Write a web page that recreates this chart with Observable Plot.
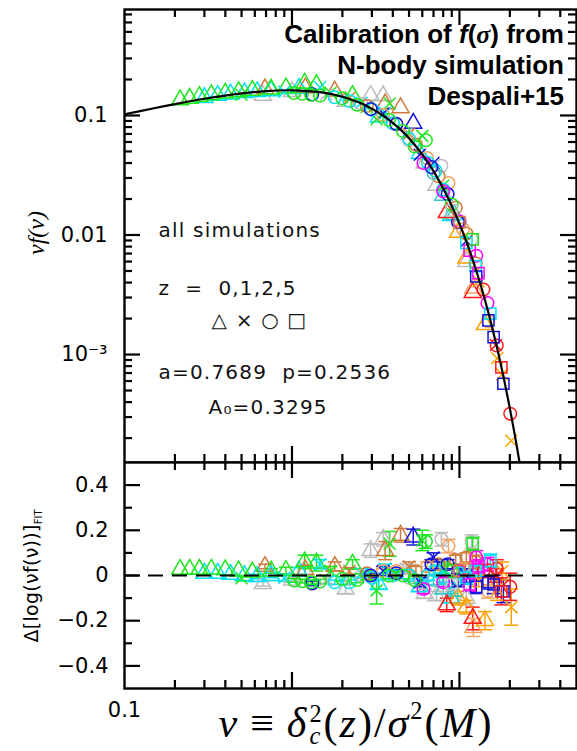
<!DOCTYPE html>
<html>
<head>
<meta charset="utf-8">
<script src="https://cdn.jsdelivr.net/npm/d3@7"></script>
<script src="https://cdn.jsdelivr.net/npm/@observablehq/plot@0.6"></script>
<style>
  body { margin: 0; background: #fff; }
  #wrap { position: relative; width: 577px; height: 751px; overflow: hidden; background: #fff; }
  #top, #bot { position: absolute; left: 0; width: 577px; }
  #top { top: 0; }
  #bot { top: 462px; }
  svg { display: block; }
  #top g[aria-label="text"] text { letter-spacing: 1.2px; }
  .title { position: absolute; right: 13px; top: 19px; text-align: right; font-family: "Liberation Sans", Arial, sans-serif;
           font-weight: bold; font-size: 26px; line-height: 31px; color: #000; white-space: nowrap; }
  .title .sg { font-family: "Liberation Serif", serif; font-style: italic; font-weight: bold; }
  .ytitle { position: absolute; width: max-content; transform: translate(-50%, -50%) rotate(-90deg); white-space: nowrap; color: #000; }
  #yt1 { left: 36px; top: 233px; font-family: "Liberation Serif", serif; font-style: italic; font-size: 24px; }
  #yt2 { left: 32px; top: 576px; font-family: "DejaVu Sans", sans-serif; font-size: 19px; letter-spacing: 0.3px; }
  #yt2 sub { font-size: 10px; letter-spacing: 0; }
  #xt { position: absolute; left: 356px; top: 702px; width: max-content; transform: translateX(-50%); font-family: "Liberation Serif", serif;
        font-size: 42px; line-height: 42px; letter-spacing: 2px; white-space: nowrap; color: #000; }
  #xt .sp { display: inline-block; width: 11px; }
  #xt .ss { display: inline-block; vertical-align: -0.3em; font-size: 0.58em; line-height: 0.92; text-align: left; margin-left: 1px; }
  #xt .ss span { display: block; }
  #xt sup { font-size: 0.58em; vertical-align: 0.75em; line-height: 0; }
</style>
</head>
<body>
<div id="wrap">
  <div id="top"></div>
  <div id="bot"></div>
  <div class="title">Calibration of <i>f</i>(<span class="sg">σ</span>) from<br>N-body simulation<br>Despali+15</div>
  <div class="ytitle" id="yt1">νf(ν)</div>
  <div class="ytitle" id="yt2">Δ[log(νf(ν))]<sub>FIT</sub></div>
  <div id="xt"><i>ν</i><span class="sp"></span>≡<span class="sp"></span><i>δ</i><span class="ss"><span>2</span><span><i>c</i></span></span>(<i>z</i>)/<i>σ</i><sup>2</sup>(<i>M</i>)</div>
</div>
<script>
// ---------------- data ----------------
// redshift of each marker: 0,1,2,5  ->  triangle, times, circle, square
const redshifts = [0, 1, 2, 5];
const zSymbols = ["triangle", "times", "circle", "square"];

// fitted curve
const fitNu  = [0.1, 0.15, 0.2, 0.3, 0.4, 0.5, 0.7, 1, 1.5, 2, 2.5, 3, 3.5, 4, 4.5, 5, 6, 7, 8, 9, 10, 11, 12, 13, 14, 15, 16, 17, 18, 19, 20, 21, 22, 23];
const fitNuF = [0.1023, 0.1150, 0.1245, 0.1379, 0.1468, 0.1530, 0.1599, 0.1624, 0.1558, 0.1433, 0.1288, 0.1140, 0.0998, 0.0868, 0.0750, 0.0645, 0.0472, 0.0342, 0.0245, 0.01753, 0.01245, 0.00881, 0.00621, 0.00437, 0.00307, 0.00215, 0.00150, 0.00105, 0.000731, 0.000509, 0.000354, 0.000246, 0.000171, 0.000118];

// simulations: colour of each run
const simNames  = ["gray", "sienna", "sandy", "cyan", "turquoise", "blue", "magenta", "orange", "red", "green"];
const simColors = ["#bdbdbd", "#cd7a3c", "#f4a460", "#00e1f0", "#3cc8c8", "#1414dc", "#ff00ff", "#ffa000", "#ff1a1a", "#1ee61e"];

// each point: [z index, nu, nu f(nu), residual, error]
const simGray = [
  [0,0.67,0.147,-0.036,0.01],[0,1.0,0.158,-0.02,0.01],[1,1.6,0.150,-0.02,0.015],[0,2.09,0.131,-0.06,0.02],
  [2,2.6,0.125,0.0,0.01],[0,2.95,0.147,0.11,0.03],[0,3.5,0.146,0.16,0.03],[1,4.8,0.070,0.03,0.02],
  [2,5.0,0.062,-0.01,0.015],[0,6.2,0.040,-0.08,0.02],[0,7.3,0.026,-0.09,0.02],[2,7.8,0.038,0.16,0.03],
  [3,9.0,0.016,-0.04,0.03],[2,11.8,0.0092,0.15,0.03],[0,11.0,0.0060,-0.10,0.03]
];
const simSienna = [
  [0,0.69,0.167,0.04,0.01],[0,1.2,0.170,0.025,0.02],[0,1.8,0.160,0.04,0.02],[1,2.2,0.140,0.02,0.015],
  [2,2.8,0.120,0.01,0.01],[0,3.6,0.125,0.11,0.04],[0,4.45,0.116,0.178,0.03],[1,5.0,0.070,0.04,0.02],
  [2,5.5,0.057,0.02,0.02],[2,7.5,0.031,0.05,0.02],[2,9.5,0.017,0.07,0.02],[3,10.0,0.0128,0.02,0.03],
  [2,11.0,0.0103,0.08,0.02],[2,12.5,0.0058,0.06,0.03]
];
const simSandy = [
  [2,3.5,0.101,0.02,0.01],[2,4.2,0.084,0.02,0.015],[2,6.4,0.044,0.04,0.02],[2,8.6,0.0272,0.13,0.03],
  [2,10.5,0.0112,0.03,0.02],[2,14.8,0.0019,-0.07,0.03],[0,12.1,0.0036,-0.23,0.04]
];
const simCyan = [
  [0,0.30,0.141,0.01,0],[0,0.36,0.147,0.01,0],[0,0.43,0.151,0.005,0],[0,0.52,0.155,0.0,0],
  [0,0.62,0.158,-0.005,0.01],[0,0.75,0.161,0.0,0.01],[1,0.90,0.158,-0.01,0.015],[0,1.1,0.168,0.02,0.015],
  [1,1.47,0.172,0.05,0.02],[2,1.8,0.142,-0.03,0.01],[2,2.2,0.132,-0.03,0.01],[1,2.6,0.128,0.01,0.02],
  [2,3.0,0.112,-0.01,0.01],[0,3.3,0.097,-0.04,0.02],[1,3.6,0.105,0.03,0.02],[2,4.0,0.086,0.0,0.015],
  [2,5.0,0.064,0.0,0.015],[0,5.8,0.048,-0.05,0.02],[2,6.5,0.040,0.0,0.02],[2,7.2,0.0345,0.02,0.02],
  [2,8.0,0.024,-0.01,0.02],[0,8.9,0.0145,-0.10,0.02],[2,10.0,0.0128,0.01,0.02],[3,11.0,0.0086,-0.01,0.03],
  [3,12.5,0.0055,0.02,0.02],[3,15.3,0.0022,0.065,0.03]
];
const simTurquoise = [
  [2,7.0,0.033,-0.02,0.02],[0,8.0,0.0215,-0.06,0.02],[0,9.3,0.0148,-0.07,0.02]
];
const simBlue = [
  [2,1.32,0.150,-0.035,0.01],[2,2.95,0.113,0.0,0.01],[1,3.5,0.104,0.02,0.02],[2,4.2,0.085,0.01,0.015],
  [0,5.3,0.086,0.17,0.035],[1,5.8,0.047,-0.03,0.02],[2,6.8,0.037,0.05,0.02],[1,7.0,0.040,0.08,0.02],
  [2,8.5,0.022,0.05,0.02],[2,9.8,0.0128,-0.02,0.03],[1,11.0,0.0089,0.0,0.03],
  [3,12.6,0.0045,-0.05,0.03],[3,14.9,0.00193,-0.03,0.03],[3,16.0,0.0014,-0.04,0.04],[3,18.3,0.00057,-0.07,0.05]
];
const simMagenta = [
  [2,6.1,0.040,-0.06,0.02],[2,8.0,0.0232,-0.03,0.02],[2,10.0,0.0130,0.02,0.02],[3,11.5,0.0074,-0.04,0.03],
  [2,12.6,0.0067,0.08,0.03],[3,13.0,0.0048,0.04,0.03],[2,14.7,0.0027,0.05,0.03]
];
const simOrange = [
  [0,9.8,0.0105,-0.10,0.03],[0,11.0,0.0064,-0.14,0.03],[1,13.0,0.0041,-0.02,0.03],[0,14.2,0.00178,-0.20,0.04],
  [1,16.8,0.00093,-0.06,0.05],[1,18.0,0.00068,0.02,0.04],[1,20.4,0.00019,-0.14,0.08]
];
const simRed = [
  [0,8.4,0.0154,-0.13,0.03],[0,12.0,0.0033,-0.19,0.05],[2,13.9,0.0035,0.02,0.03],[2,16.7,0.00119,0.03,0.04],
  [1,16.5,0.0012,0.0,0.03],[3,17.8,0.00078,-0.07,0.06],[2,20.1,0.00032,-0.05,0.06]
];
const simGreen = [
  [0,0.215,0.135,0.027,0],[0,0.245,0.139,0.027,0],[0,0.28,0.144,0.027,0],[0,0.33,0.149,0.028,0],
  [0,0.40,0.154,0.025,0],[0,0.48,0.158,0.02,0],[0,0.58,0.162,0.015,0],[1,0.50,0.149,-0.012,0.012],
  [0,0.75,0.166,0.02,0.01],[0,0.92,0.170,0.022,0.015],[0,1.19,0.186,0.06,0.03],[0,1.40,0.181,0.055,0.035],
  [2,1.03,0.154,-0.022,0.008],[2,1.15,0.152,-0.025,0.008],[2,1.30,0.149,-0.03,0.01],[2,1.47,0.147,-0.027,0.01],
  [1,1.7,0.155,0.02,0.02],[2,2.0,0.139,-0.015,0.01],[0,2.3,0.147,0.05,0.02],[2,2.45,0.123,-0.02,0.012],
  [1,2.8,0.118,0.0,0.02],[1,3.2,0.093,-0.066,0.06],[2,3.8,0.092,0.0,0.015],[1,3.83,0.126,0.14,0.055],
  [2,4.6,0.074,0.0,0.015],[2,5.4,0.055,-0.02,0.015],[1,6.0,0.0675,0.155,0.045],[2,6.3,0.062,0.15,0.03],
  [1,8.0,0.026,0.03,0.03],[2,9.0,0.018,0.02,0.03],[3,12.0,0.0092,0.14,0.03]
];
const simPoints = [simGray, simSienna, simSandy, simCyan, simTurquoise, simBlue, simMagenta, simOrange, simRed, simGreen];

// axis ticks
const xMajorTicks = [1, 10];
const xMinorTicks = [0.2,0.3,0.4,0.5,0.6,0.7,0.8,0.9, 2,3,4,5,6,7,8,9, 20,30,40];
const xLabelTicks = [0.1];
const yTopMajorTicks = [0.001, 0.01, 0.1];
const yTopMinorTicks = [2e-4,3e-4,4e-4,5e-4,6e-4,7e-4,8e-4,9e-4, 2e-3,3e-3,4e-3,5e-3,6e-3,7e-3,8e-3,9e-3,
                        0.02,0.03,0.04,0.05,0.06,0.07,0.08,0.09, 0.2,0.3,0.4,0.5,0.6,0.7];
const yTopTickLabels = {"0.001": "10⁻³", "0.01": "0.01", "0.1": "0.1"};
const yBotMajorTicks = [-0.4, -0.2, 0, 0.2, 0.4];
const yBotMinorTicks = [-0.3, -0.1, 0.1, 0.3];
const annotLines = ["all simulations", "z  =  0,1,2,5", "△ × ○ □", "a=0.7689  p=0.2536", "A₀=0.3295"];

// ---------------- tables ----------------
const rows = [];
simPoints.forEach((pts, i) => pts.forEach(p => rows.push({
  sim: simNames[i], color: simColors[i], z: p[0], nu: p[1], nuf: p[2], res: p[3], err: p[4]
})));
const fit = fitNu.map((nu, i) => ({nu, val: fitNuF[i]}));
const errRows = rows.filter(d => d.err > 0);

const capSymbol = { draw(ctx, size) { const w = Math.sqrt(size / Math.PI); ctx.moveTo(-w, 0); ctx.lineTo(w, 0); } };

const W = 577, ML = 124, MR = 1;
const PW = W - ML - MR;
const tickFont = "'DejaVu Sans', sans-serif";

// inward frame ticks: Plot rules inset so that only a short stub next to each frame edge remains
function frameTicks(xMaj, xMin, yMaj, yMin, PH) {
  const st = {stroke: "#000", strokeWidth: 2.2, strokeOpacity: 1};
  const big = 16, small = 8;
  return [
    Plot.ruleY(yMaj, {...st, y: d => d, insetRight: PW - big}),
    Plot.ruleY(yMin, {...st, y: d => d, insetRight: PW - small}),
    Plot.ruleY(yMaj, {...st, y: d => d, insetLeft: PW - big}),
    Plot.ruleY(yMin, {...st, y: d => d, insetLeft: PW - small}),
    Plot.ruleX(xMaj, {...st, x: d => d, insetBottom: PH - big}),
    Plot.ruleX(xMin, {...st, x: d => d, insetBottom: PH - small}),
    Plot.ruleX(xMaj, {...st, x: d => d, insetTop: PH - big}),
    Plot.ruleX(xMin, {...st, x: d => d, insetTop: PH - small})
  ];
}

function dotsBy(field) {
  return redshifts.map((z, k) => Plot.dot(rows.filter(d => d.z === k), {
    x: "nu", y: field, stroke: "color", fill: "none", symbol: zSymbols[k], r: k === 1 ? 5.5 : 6.3, strokeWidth: 1.5
  }));
}

// ---------------- top panel ----------------
const TOP_H = 462, TOP_MT = 9;
const annotOffsets = [[34, 221], [34, 279], [87, 311], [34, 363], [84, 398]];
const topPlot = Plot.plot({
  width: W, height: TOP_H, marginTop: TOP_MT, marginBottom: 0, marginLeft: ML, marginRight: MR,
  x: {type: "log", domain: [0.1, 50], axis: null},
  y: {type: "log", domain: [1.25e-4, 0.77]},
  color: {type: "identity"},
  style: {background: "white", color: "black", fontFamily: tickFont, fontSize: "21px", overflow: "visible"},
  marks: [
    ...dotsBy("nuf"),
    Plot.line(fit, {x: "nu", y: "val", stroke: "black", strokeWidth: 2.2, curve: "catmull-rom", clip: true}),
    ...annotLines.map((t, i) => Plot.text([t], {
      frameAnchor: "top-left", dx: annotOffsets[i][0], dy: annotOffsets[i][1],
      textAnchor: "start", lineAnchor: "middle", fontSize: 20, fontFamily: tickFont, fill: "#111"
    })),
    Plot.axisY({anchor: "left", ticks: yTopMajorTicks, tickSize: 0, tickPadding: 17, label: null,
                tickFormat: d => yTopTickLabels[String(d)], fontSize: 21}),
    Plot.frame({stroke: "black", strokeWidth: 2.4}),
    ...frameTicks(xMajorTicks, xMinorTicks, yTopMajorTicks, yTopMinorTicks, TOP_H - TOP_MT)
  ]
});
document.getElementById("top").append(topPlot);

// ---------------- bottom panel ----------------
const BOT_H = 289, BOT_MB = 63;
const botPlot = Plot.plot({
  width: W, height: BOT_H, marginTop: 0, marginBottom: BOT_MB, marginLeft: ML, marginRight: MR,
  x: {type: "log", domain: [0.1, 50]},
  y: {domain: [-0.5, 0.5]},
  color: {type: "identity"},
  style: {background: "white", color: "black", fontFamily: tickFont, fontSize: "21px", overflow: "visible"},
  marks: [
    Plot.ruleX(errRows, {x: "nu", y1: d => d.res - d.err, y2: d => d.res + d.err, stroke: "color", strokeWidth: 1.5}),
    Plot.dot(errRows, {x: "nu", y: d => d.res + d.err, symbol: capSymbol, r: 7, stroke: "color", fill: "none", strokeWidth: 1.5}),
    Plot.dot(errRows, {x: "nu", y: d => d.res - d.err, symbol: capSymbol, r: 7, stroke: "color", fill: "none", strokeWidth: 1.5}),
    ...dotsBy("res"),
    Plot.ruleY([0], {stroke: "black", strokeWidth: 2, strokeDasharray: "15,9"}),
    Plot.axisY({anchor: "left", ticks: yBotMajorTicks, tickSize: 0, tickPadding: 16, label: null,
                tickFormat: d => d === 0 ? "0" : d3.format(".1f")(d).replace("-", "−"), fontSize: 21}),
    Plot.axisX({anchor: "bottom", ticks: xLabelTicks, tickSize: 0, tickPadding: 14, label: null,
                tickFormat: () => "0.1", fontSize: 21}),
    Plot.frame({stroke: "black", strokeWidth: 2.4}),
    ...frameTicks(xMajorTicks, xMinorTicks, yBotMajorTicks, yBotMinorTicks, BOT_H - BOT_MB)
  ]
});
document.getElementById("bot").append(botPlot);
</script>
</body>
</html>
